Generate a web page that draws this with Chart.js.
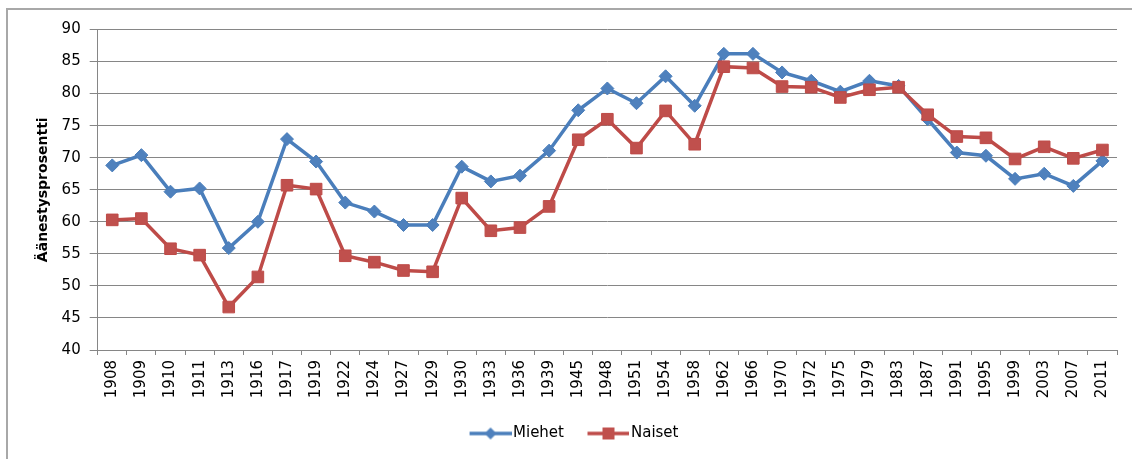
<!DOCTYPE html>
<html>
<head>
<meta charset="utf-8">
<script src="https://cdn.jsdelivr.net/npm/chart.js@4/dist/chart.umd.min.js"></script>
<style>
  html, body { margin: 0; padding: 0; background: #ffffff; }
  #wrap { position: relative; width: 1132px; height: 459px; overflow: hidden; }
  #frame { position: absolute; left: 6px; top: 8px; width: 1130px; height: 455px;
           border-top: 2px solid #a8a8a8; border-left: 2px solid #a8a8a8; }
  #c { position: absolute; left: 0; top: 0; }
</style>
</head>
<body>
<div id="wrap">
  <div id="frame"></div>
  <canvas id="c" width="1132" height="459"></canvas>
</div>
<script>
const years = ['1908','1909','1910','1911','1913','1916','1917','1919','1922','1924','1927','1929','1930','1933','1936','1939','1945','1948','1951','1954','1958','1962','1966','1970','1972','1975','1979','1983','1987','1991','1995','1999','2003','2007','2011'];
const miehet = [68.8,70.4,64.7,65.2,55.9,60.0,72.9,69.4,63.0,61.6,59.5,59.5,68.6,66.3,67.2,71.1,77.4,80.8,78.5,82.7,78.1,86.2,86.2,83.3,82.0,80.3,82.0,81.2,76.0,70.8,70.3,66.7,67.5,65.6,69.5];
const naiset = [60.3,60.5,55.8,54.8,46.7,51.4,65.7,65.1,54.7,53.7,52.4,52.2,63.7,58.6,59.1,62.4,72.8,76.0,71.5,77.3,72.1,84.2,84.0,81.1,81.0,79.4,80.6,81.0,76.7,73.3,73.1,69.8,71.7,69.9,71.2];
const seriesNames = ['Miehet', 'Naiset'];
const yAxisTitle = 'Äänestysprosentti';
const yMin = 40, yMax = 90, yStep = 5;

const BLUE_LINE = '#4A7EBB', BLUE_FILL = '#4F81BD';
const RED_LINE = '#BE4B48', RED_FILL = '#C0504D';
const FONT = '"DejaVu Sans", Verdana, sans-serif';

function makeIcon(kind) {
  const cv = document.createElement('canvas');
  cv.width = 48; cv.height = 16;
  const g = cv.getContext('2d');
  const cy = 8;
  g.strokeStyle = kind === 'diamond' ? BLUE_LINE : RED_LINE;
  g.lineWidth = 3.5;
  g.beginPath(); g.moveTo(6, cy); g.lineTo(48, cy); g.stroke();
  const cx = 27;
  if (kind === 'diamond') {
    g.fillStyle = BLUE_FILL;
    g.beginPath();
    g.moveTo(cx - 6, cy); g.lineTo(cx, cy - 6); g.lineTo(cx + 6, cy); g.lineTo(cx, cy + 6);
    g.closePath(); g.fill();
  } else {
    g.fillStyle = RED_FILL;
    g.fillRect(cx - 6, cy - 6, 12, 12);
  }
  return cv;
}
const icons = [makeIcon('diamond'), makeIcon('square')];

new Chart(document.getElementById('c'), {
  type: 'line',
  data: {
    labels: years,
    datasets: [
      {
        label: seriesNames[0], data: miehet, order: 1,
        borderColor: BLUE_LINE, backgroundColor: BLUE_FILL, borderWidth: 3.5,
        pointStyle: 'rectRot', pointRadius: 6.5, pointBorderWidth: 1,
        pointBackgroundColor: BLUE_FILL, pointBorderColor: BLUE_LINE,
        tension: 0, fill: false
      },
      {
        label: seriesNames[1], data: naiset, order: 0,
        borderColor: RED_LINE, backgroundColor: RED_FILL, borderWidth: 3.5,
        pointStyle: 'rect', pointRadius: 8.2, pointBorderWidth: 1,
        pointBackgroundColor: RED_FILL, pointBorderColor: RED_LINE,
        tension: 0, fill: false
      }
    ]
  },
  options: {
    responsive: false,
    animation: false,
    events: [],
    layout: { padding: { left: 16, right: 0, top: 29.5, bottom: 8 } },
    plugins: {
      tooltip: { enabled: false },
      legend: {
        display: true,
        position: 'bottom',
        align: 'center',
        labels: {
          usePointStyle: true,
          pointStyleWidth: 36,
          padding: 23.5,
          color: '#000000',
          font: { family: FONT, size: 15 },
          generateLabels: (chart) => {
            const items = Chart.defaults.plugins.legend.labels.generateLabels(chart);
            items.sort((a, b) => a.datasetIndex - b.datasetIndex);
            items.forEach((it) => { it.pointStyle = icons[it.datasetIndex]; it.rotation = 0; });
            return items;
          }
        }
      }
    },
    scales: {
      x: {
        type: 'category',
        offset: true,
        grid: { display: true, drawOnChartArea: false, drawTicks: true, tickLength: 5, offset: true, color: '#868686', lineWidth: 1 },
        border: { display: true, color: '#868686', width: 1 },
        ticks: {
          autoSkip: false, maxRotation: 90, minRotation: 90, padding: 5,
          color: '#000000', font: { family: FONT, size: 15 }
        },
        afterFit: (scale) => { scale.height = 52.5; scale.paddingRight = 15; scale.paddingLeft = 0; }
      },
      y: {
        min: yMin, max: yMax,
        grid: { color: '#868686', lineWidth: 1, tickLength: 8, drawTicks: true },
        border: { display: true, color: '#868686', width: 1 },
        ticks: {
          stepSize: yStep, padding: 9, color: '#000000',
          font: { family: FONT, size: 15 }
        },
        title: {
          display: true, text: yAxisTitle, color: '#000000',
          font: { family: FONT, size: 14, weight: 'bold' },
          padding: { top: 18.6, bottom: 0 }
        },
        afterFit: (scale) => { scale.width = 81.7; }
      }
    }
  }
});
</script>
</body>
</html>
